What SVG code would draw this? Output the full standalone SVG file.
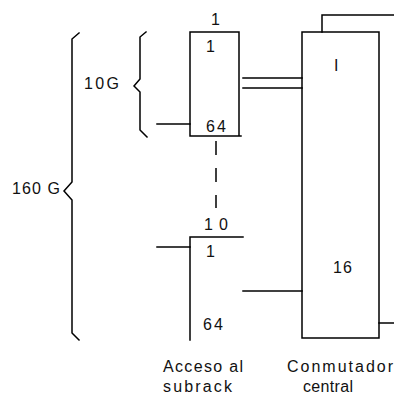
<svg xmlns="http://www.w3.org/2000/svg" width="394" height="395" viewBox="0 0 394 395">
<style>
.ln{fill:none;stroke:#000;stroke-width:1.5;stroke-linecap:square}
.t{font-family:"Liberation Sans",Arial,sans-serif;font-size:16px;fill:#111}
.d{stroke-dasharray:14 13;stroke-linecap:butt}
</style>
<rect width="394" height="395" fill="#fff"/>
<g id="brace-160G">
<path class="ln" d="M79,33 L72,39 L72,182 L64,191 L72,200 L72,333 L79,340"/>
<text class="t" x="12" y="194" textLength="48" lengthAdjust="spacing">160 G</text>
</g>
<g id="brace-10G">
<path class="ln" d="M146,32 L140,37 L140,79 L134,86 L140,92 L140,130 L147,137"/>
<text class="t" x="84" y="89" textLength="35" lengthAdjust="spacing">10G</text>
</g>
<g id="acceso-1">
<text class="t" x="211" y="25">1</text>
<path class="ln" d="M190,32 L239,32 L239,136 M190,32 L190,136 L241,136"/>
<text class="t" x="206" y="52">1</text>
<text class="t" x="206" y="132" textLength="20" lengthAdjust="spacing">64</text>
</g>
<g id="acceso-16">
<text class="t" x="204" y="230" textLength="24" lengthAdjust="spacing">10</text>
<path class="ln" d="M243,237 L190,237 L190,340"/>
<text class="t" x="206" y="257">1</text>
<text class="t" x="203" y="330" textLength="20" lengthAdjust="spacing">64</text>
</g>
<g id="conmutador">
<path class="ln" d="M302,32 L379,32 L379,338 L302,338 Z"/>
<text class="t" x="334" y="71">I</text>
<text class="t" x="333" y="273" textLength="19" lengthAdjust="spacing">16</text>
</g>
<g id="connectors">
<path class="ln" d="M322,32 L322,15 L394,15"/>
<path class="ln" d="M379,323 L394,323"/>
<path class="ln" d="M243,78 L302,78 M243,88 L302,88"/>
<path class="ln" d="M243,291 L302,291"/>
<path class="ln" d="M157,124 L190,124"/>
<path class="ln" d="M157,247 L190,247"/>
<path class="ln d" d="M216,141 L216,208"/>
</g>
<g id="labels">
<text class="t" x="163" y="372" textLength="80" lengthAdjust="spacing">Acceso al</text>
<text class="t" x="163" y="392" textLength="69" lengthAdjust="spacing">subrack</text>
<text class="t" x="287" y="372" textLength="106" lengthAdjust="spacing">Conmutador</text>
<text class="t" x="303" y="392" textLength="50" lengthAdjust="spacing">central</text>
</g>
</svg>
